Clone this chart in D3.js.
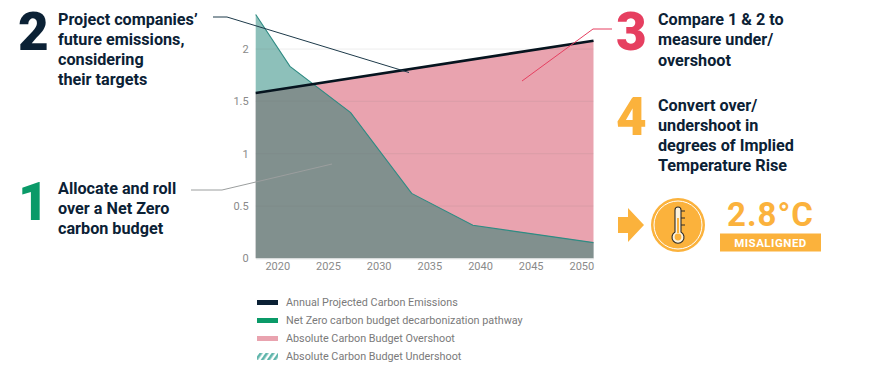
<!DOCTYPE html>
<html>
<head>
<meta charset="utf-8">
<style>
    html, body { margin: 0; padding: 0; background: #fff; }
    svg { display: block; }
    text { font-family: Roboto, sans-serif; }
</style>
<script src="https://cdn.jsdelivr.net/npm/d3@7"></script>
</head>
<body>
<div id="viz"></div>
<script>
// values
const emissionYears = [2017.87, 2051.2];
const emissionValues = [1.58, 2.08];
const pathwayYears = [2017.87, 2021.25, 2027.24, 2033.26, 2039.3, 2051.2];
const pathwayValues = [2.33, 1.835, 1.393, 0.62, 0.315, 0.15];
const xTicks = [2020, 2025, 2030, 2035, 2040, 2045, 2050];
const yTicks = [0, 0.5, 1, 1.5, 2];
const legendLabels = [
    'Annual Projected Carbon Emissions',
    'Net Zero carbon budget decarbonization pathway',
    'Absolute Carbon Budget Overshoot',
    'Absolute Carbon Budget Undershoot'
];
const noteOne = ['Allocate and roll', 'over a Net Zero', 'carbon budget'];
const noteTwo = ['Project companies\u2019', 'future emissions,', 'considering', 'their targets'];
const noteThree = ['Compare 1 & 2 to', 'measure under/', 'overshoot'];
const noteFour = ['Convert over/', 'undershoot in', 'degrees of Implied', 'Temperature Rise'];

const navy = '#0b2135';
const green = '#0a9a68';
const pink = '#e63f60';
const yellow = '#fbb23c';

function drawChart() {
    const width = 891;
    const height = 381;
    const bounds = {left: 255.7, right: 593.5, top: 14, bottom: 258.3};

    const svg = d3.select('#viz').append('svg')
        .attr('width', width)
        .attr('height', height);

    const defs = svg.append('defs');

    /* ===== SCALES ===== */
    const xScale = d3.scaleLinear()
        .domain([2017.87, 2051.2])
        .range([bounds.left, bounds.right]);
    const yScale = d3.scaleLinear()
        .domain([0, 2.335])
        .range([bounds.bottom, bounds.top]);

    const emissions = emissionYears.map((y, i) => ({year: y, value: emissionValues[i]}));
    const pathway = pathwayYears.map((y, i) => ({year: y, value: pathwayValues[i]}));

    const area = d3.area()
        .x(d => xScale(d.year))
        .y0(bounds.bottom)
        .y1(d => yScale(d.value));
    const line = d3.line()
        .x(d => xScale(d.year))
        .y(d => yScale(d.value));

    /* ===== AREAS ===== */
    defs.append('clipPath').attr('id', 'under-emissions')
        .append('path').attr('d', area(emissions));

    svg.append('path').attr('d', area(emissions)).attr('fill', '#e9a3af');
    svg.append('path').attr('d', area(pathway)).attr('fill', '#8dc0ba');
    svg.append('path').attr('d', area(pathway))
        .attr('fill', '#81908e')
        .attr('clip-path', 'url(#under-emissions)');

    /* ===== AXES ===== */
    const yAxis = d3.axisLeft(yScale)
        .tickValues(yTicks)
        .tickFormat(d3.format('~g'))
        .tickSize(0)
        .tickPadding(7);
    const yG = svg.append('g')
        .attr('transform', `translate(${bounds.left}, 0)`)
        .call(yAxis);
    yG.select('.domain').remove();
    yG.selectAll('text').attr('font-size', 11).attr('fill', '#8a8a8a')
        .style('font-family', 'Roboto, sans-serif');

    // gridlines are barely visible in the reference
    svg.append('g').selectAll('line')
        .data(yTicks.filter(d => d > 0))
        .join('line')
            .attr('x1', bounds.left)
            .attr('x2', bounds.right)
            .attr('y1', d => yScale(d))
            .attr('y2', d => yScale(d))
            .attr('stroke', '#777')
            .attr('stroke-opacity', 0.12);

    const xAxis = d3.axisBottom(xScale)
        .tickValues(xTicks)
        .tickFormat(d3.format('d'))
        .tickSize(0)
        .tickPadding(4);
    const xG = svg.append('g')
        .attr('transform', `translate(0, ${bounds.bottom})`)
        .call(xAxis);
    xG.select('.domain').attr('stroke', '#d8dcdc');
    xG.selectAll('text').attr('font-size', 11).attr('fill', '#8a8a8a')
        .style('font-family', 'Roboto, sans-serif');

    /* ===== LINES ===== */
    svg.append('path').attr('d', line(pathway))
        .attr('fill', 'none')
        .attr('stroke', '#2f8b83')
        .attr('stroke-width', 1.1);
    svg.append('path').attr('d', line(emissions))
        .attr('fill', 'none')
        .attr('stroke', '#06141f')
        .attr('stroke-width', 2.6);

    /* ===== LEADERS ===== */
    const leader = d3.line();
    svg.append('path')
        .attr('d', leader([[213, 17], [227, 17], [409, 72.5]]))
        .attr('fill', 'none').attr('stroke', '#1d3a4a').attr('stroke-width', 1);
    svg.append('path')
        .attr('d', leader([[191, 190], [222, 190], [332, 164]]))
        .attr('fill', 'none').attr('stroke', '#9b9e9e').attr('stroke-width', 1);
    svg.append('path')
        .attr('d', leader([[522, 81], [593, 29], [612, 29]]))
        .attr('fill', 'none').attr('stroke', pink).attr('stroke-width', 1);

    /* ===== NOTES ===== */
    const bigNumber = (label, x, y, color) => svg.append('text')
        .attr('x', x).attr('y', y)
        .attr('font-size', 53)
        .attr('font-weight', 900)
        .attr('fill', color)
        .text(label);

    bigNumber('2', 18, 50, navy);
    bigNumber('1', 18, 220, green);
    bigNumber('3', 616, 50, pink);
    bigNumber('4', 616, 135, yellow);

    const note = (lines, x, y, step) => svg.append('g').selectAll('text')
        .data(lines)
        .join('text')
            .attr('x', x)
            .attr('y', (d, i) => y + i * step)
            .attr('font-size', 16.2)
            .attr('font-weight', 700)
            .attr('fill', navy)
            .text(d => d);

    note(noteTwo, 58, 25, 20);
    note(noteOne, 58, 193.5, 20);
    note(noteThree, 658, 24.5, 20.5);
    note(noteFour, 658, 110.5, 20);

    /* ===== RESULT BADGE ===== */
    svg.append('path')
        .attr('d', leader([[618, 217], [628, 217], [628, 208], [644, 225], [628, 242], [628, 233], [618, 233]]) + 'Z')
        .attr('fill', yellow);

    const badge = svg.append('g').attr('transform', 'translate(678, 225)');
    badge.append('circle').attr('r', 27).attr('fill', yellow);
    badge.append('circle').attr('r', 24).attr('fill', 'none').attr('stroke', '#fff').attr('stroke-width', 1);
    // thermometer
    badge.append('path')
        .attr('d', 'M-3 -15 a3 3 0 0 1 6 0 V7 a6 6 0 1 1 -6 0 Z')
        .attr('fill', '#fdf3dd').attr('stroke', '#2b2b2b').attr('stroke-width', 1.1);
    badge.append('rect').attr('x', -1).attr('y', -7).attr('width', 2).attr('height', 15).attr('fill', yellow);
    badge.append('circle').attr('cy', 12).attr('r', 3.4).attr('fill', yellow);
    badge.append('g').selectAll('line')
        .data([-14, -7, 0])
        .join('line')
            .attr('x1', 3).attr('x2', 7)
            .attr('y1', d => d).attr('y2', d => d)
            .attr('stroke', '#2b2b2b').attr('stroke-width', 1);

    svg.append('text')
        .attr('x', 770.5).attr('y', 226)
        .attr('text-anchor', 'middle')
        .attr('font-size', 33)
        .attr('font-weight', 700)
        .attr('letter-spacing', 1)
        .attr('fill', yellow)
        .text('2.8\u00b0C');
    svg.append('rect')
        .attr('x', 720).attr('y', 233.5)
        .attr('width', 101).attr('height', 18)
        .attr('fill', yellow);
    svg.append('text')
        .attr('x', 770.5).attr('y', 246.5)
        .attr('text-anchor', 'middle')
        .attr('font-size', 11.5)
        .attr('font-weight', 700)
        .attr('letter-spacing', 0.5)
        .attr('fill', '#fff')
        .text('MISALIGNED');

    /* ===== LEGEND ===== */
    const hatch = defs.append('pattern')
        .attr('id', 'hatch')
        .attr('width', 5).attr('height', 5)
        .attr('patternUnits', 'userSpaceOnUse')
        .attr('patternTransform', 'rotate(35)');
    hatch.append('rect').attr('width', 2.6).attr('height', 5).attr('fill', '#5fb5ab');

    const legendY = d3.scalePoint().domain(legendLabels).range([302.5, 356.5]);
    const swatchFill = [navy, green, '#e9a3af', 'url(#hatch)'];

    const legend = svg.append('g');
    legend.selectAll('rect')
        .data(legendLabels)
        .join('rect')
            .attr('x', 257)
            .attr('y', (d, i) => legendY(d) - (i === 3 ? 3.5 : 2.5))
            .attr('width', 21)
            .attr('height', (d, i) => i === 3 ? 7 : 5)
            .attr('fill', (d, i) => swatchFill[i]);
    legend.selectAll('text')
        .data(legendLabels)
        .join('text')
            .attr('x', 286)
            .attr('y', d => legendY(d) + 3.5)
            .attr('font-size', 10.8)
            .attr('fill', '#7a7a7a')
            .text(d => d);
}

drawChart();
</script>
</body>
</html>
